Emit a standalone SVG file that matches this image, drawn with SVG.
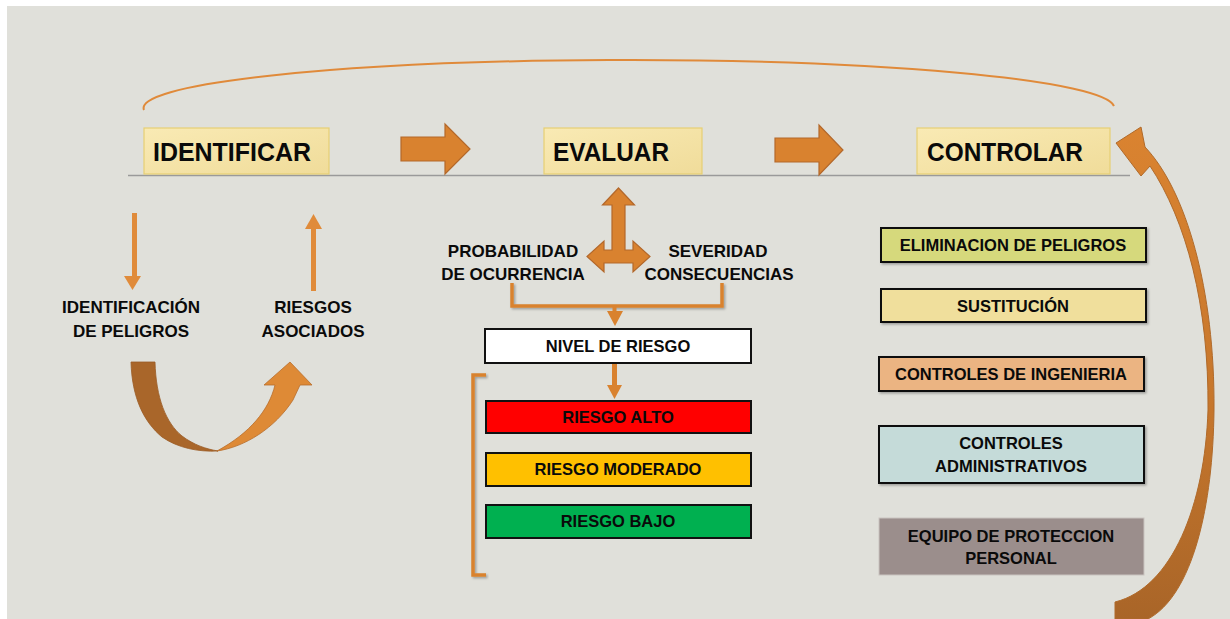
<svg xmlns="http://www.w3.org/2000/svg" width="1230" height="619" viewBox="0 0 1230 619">
<style>
  text { font-family: "Liberation Sans", Arial, sans-serif; font-weight: bold; fill: #0a0a0a; }
  .hdr { font-size: 25px; }
  .lbl { font-size: 17px; text-anchor: middle; }
  .bx { font-size: 16.5px; text-anchor: middle; }
  .hbox { fill: url(#hgrad); stroke: #e6cf74; stroke-width: 1.2; }
  .box { stroke: #111; stroke-width: 2; }
  .big { fill: #d9822f; stroke: #b3682b; stroke-width: 1.2; }
  .thin { fill: #e08b3a; }
  .brk { fill: none; stroke: #d9822f; stroke-width: 3.5; }
</style>
<defs>
  <linearGradient id="hgrad" x1="0" y1="0" x2="1" y2="1">
    <stop offset="0" stop-color="#f9eab4"/>
    <stop offset="1" stop-color="#f0dc9a"/>
  </linearGradient>
  <linearGradient id="curve" x1="0" y1="0" x2="0" y2="1">
    <stop offset="0" stop-color="#da8330"/>
    <stop offset="0.55" stop-color="#c7772c"/>
    <stop offset="1" stop-color="#a96528"/>
  </linearGradient>
  <filter id="sh" x="-10%" y="-10%" width="130%" height="140%">
    <feDropShadow dx="1.5" dy="1.5" stdDeviation="1" flood-color="#000" flood-opacity="0.3"/>
  </filter>
</defs>
<rect x="7" y="6" width="1223" height="613" fill="#e0e0da"/>

<g id="connectors">
  <path d="M144,110 A485,48 0 0 1 1114,106" fill="none" stroke="#e08a3a" stroke-width="2"/>
  <line x1="128" y1="175.5" x2="1130" y2="175.5" stroke="#9a9a9a" stroke-width="1.5"/>
  <polygon class="big" points="401,137 445,137 445,124 470,149 445,174 445,161 401,161"/>
  <polygon class="big" points="775,138 819,138 819,125 843,150 819,175 819,162 775,162"/>
  <path d="M1116,143 L1141,127 L1145,147 C1186,190 1215,290 1214,410 C1213,505 1193,595 1148,619 L1115,619 L1115,602 C1172,588 1205,505 1208,410 C1209,305 1186,220 1150,166 L1141,176 Z" fill="url(#curve)" stroke="#b06a2a" stroke-width="1"/>
  <rect class="thin" x="132" y="213" width="5" height="64"/>
  <polygon class="thin" points="124,276 141,276 132.5,290"/>
  <rect class="thin" x="311" y="228" width="5" height="63"/>
  <polygon class="thin" points="305,229 322,229 313.5,214"/>
  <path d="M131,362 L155,362 C156,398 166,423 182,436 C194,445 206,449 218,451 C198,452 178,448 162,437 C144,422 132,398 131,362 Z" fill="#a9662a" stroke="#9a5c26" stroke-width="0.8"/>
  <path d="M217,451 C245,447 275,428 293,400 L300,385 L312,385 L290,362 L264,385 L275,385 C269,410 250,433 217,451 Z" fill="#de8a36" stroke="#b86d2c" stroke-width="0.8"/>
  <polygon class="big" points="618.5,188 634.5,205 625,205 625,250 633,250 633,241 650,256.5 633,272 633,263 604,263 604,272 587,256.5 604,241 604,250 612,250 612,205 602.5,205"/>
  <path class="brk" d="M512,283 V306 H722 V283" filter="url(#sh)"/>
  <rect x="612.5" y="305" width="4" height="7" fill="#d9822f"/>
  <polygon points="607,311 623,311 615,326" fill="#d9822f"/>
  <rect x="612" y="363" width="5" height="23" fill="#d9822f"/>
  <polygon points="607,385 622,385 614.5,399" fill="#d9822f"/>
  <path class="brk" d="M486,375 H473 V575 H486" filter="url(#sh)"/>
</g>

<g id="identificar">
  <rect class="hbox" x="144" y="128" width="185" height="46"/>
  <text class="hdr" x="153" y="161" textLength="158" lengthAdjust="spacingAndGlyphs">IDENTIFICAR</text>
</g>
<g id="evaluar">
  <rect class="hbox" x="544" y="128" width="158" height="46"/>
  <text class="hdr" x="553" y="161" textLength="116" lengthAdjust="spacingAndGlyphs">EVALUAR</text>
</g>
<g id="controlar">
  <rect class="hbox" x="917" y="128" width="193" height="46"/>
  <text class="hdr" x="927" y="161" textLength="156" lengthAdjust="spacingAndGlyphs">CONTROLAR</text>
</g>

<g id="identificacion">
  <text class="lbl" x="131" y="313">IDENTIFICACIÓN</text>
  <text class="lbl" x="131" y="337">DE PELIGROS</text>
</g>
<g id="riesgos-asociados">
  <text class="lbl" x="313" y="313">RIESGOS</text>
  <text class="lbl" x="313" y="337">ASOCIADOS</text>
</g>
<g id="probabilidad">
  <text class="lbl" x="513" y="257">PROBABILIDAD</text>
  <text class="lbl" x="513" y="280">DE OCURRENCIA</text>
</g>
<g id="severidad">
  <text class="lbl" x="718" y="257">SEVERIDAD</text>
  <text class="lbl" x="719" y="280">CONSECUENCIAS</text>
</g>
<g id="nivel">
  <rect class="box" x="485" y="329" width="266" height="34" fill="#ffffff"/>
  <text class="bx" x="618" y="352">NIVEL DE RIESGO</text>
</g>
<g id="alto">
  <rect class="box" x="486" y="401" width="265" height="32" fill="#ff0000"/>
  <text class="bx" x="618" y="423">RIESGO ALTO</text>
</g>
<g id="moderado">
  <rect class="box" x="486" y="453" width="265" height="33" fill="#ffc000"/>
  <text class="bx" x="618" y="475">RIESGO MODERADO</text>
</g>
<g id="bajo">
  <rect class="box" x="486" y="505" width="265" height="33" fill="#00b050"/>
  <text class="bx" x="618" y="527">RIESGO BAJO</text>
</g>

<g id="eliminacion">
  <rect class="box" x="881" y="228" width="265" height="34" fill="#d6d97b" filter="url(#sh)"/>
  <text class="bx" x="1013" y="251">ELIMINACION DE PELIGROS</text>
</g>
<g id="sustitucion">
  <rect class="box" x="881" y="289" width="265" height="33" fill="#f0df9c" filter="url(#sh)"/>
  <text class="bx" x="1013" y="312">SUSTITUCIÓN</text>
</g>
<g id="ingenieria">
  <rect class="box" x="879" y="357" width="265" height="34" fill="#ebb482" filter="url(#sh)"/>
  <text class="bx" x="1011" y="380">CONTROLES DE INGENIERIA</text>
</g>
<g id="administrativos">
  <rect class="box" x="879" y="426" width="265" height="57" fill="#c5dbd9" filter="url(#sh)"/>
  <text class="bx" x="1011" y="449">CONTROLES</text>
  <text class="bx" x="1011" y="472">ADMINISTRATIVOS</text>
</g>
<g id="epp">
  <rect x="879" y="518" width="265" height="57" fill="#9b8e8c" stroke="#c9c4c0" stroke-width="1"/>
  <text class="bx" x="1011" y="542">EQUIPO DE PROTECCION</text>
  <text class="bx" x="1011" y="564">PERSONAL</text>
</g>
</svg>
